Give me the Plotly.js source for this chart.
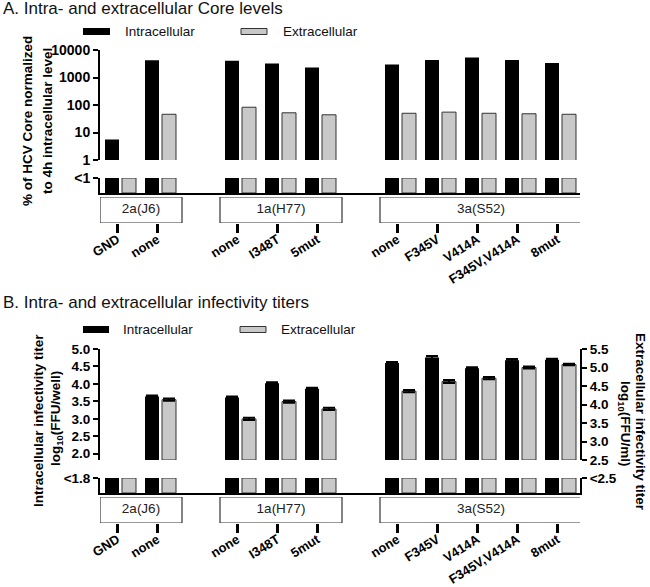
<!DOCTYPE html>
<html>
<head>
<meta charset="utf-8">
<script src="https://cdn.plot.ly/plotly-3.0.1.min.js"></script>
<style>html,body{margin:0;padding:0;background:#fff;}#chart{width:650px;height:587px;}</style>
</head>
<body>
<div id="chart"></div>
<script>
// ---------- data ----------
const groupNames = ['2a(J6)', '1a(H77)', '3a(S52)'];
const categories = ['GND', 'none', 'none', 'I348T', '5mut', 'none', 'F345V', 'V414A', 'F345V,V414A', '8mut'];
const categoryGroup = [0, 0, 1, 1, 1, 2, 2, 2, 2, 2];
const seriesNames = ['Intracellular', 'Extracellular'];

// Panel A: % of HCV Core normalized to 4h intracellular level (null = below 1)
const coreIntra = [5.6, 4200, 4100, 3200, 2300, 3000, 4300, 5300, 4300, 3400];
const coreExtra = [null, 46, 83, 52, 44, 50, 55, 50, 48, 46];

// Panel B: log10 titers (null = below detection)
const titerIntra    = [null, 3.64, 3.61, 4.02, 3.86, 4.60, 4.76, 4.45, 4.68, 4.69];
const titerIntraErr = [null, 0.03, 0.03, 0.03, 0.03, 0.03, 0.04, 0.03, 0.03, 0.03];
const titerExtra    = [null, 4.13, 3.61, 4.08, 3.88, 4.36, 4.62, 4.71, 5.00, 5.08];
const titerExtraErr = [null, 0.03, 0.03, 0.03, 0.03, 0.03, 0.04, 0.03, 0.03, 0.02];

const coreTicks = [1, 10, 100, 1000, 10000];
const intraTicks = [2.0, 2.5, 3.0, 3.5, 4.0, 4.5, 5.0];
const extraTicks = [2.5, 3.0, 3.5, 4.0, 4.5, 5.0, 5.5];
const coreBelow = '<1', intraBelow = '<1.8', extraBelow = '<2.5';

// ---------- layout helpers ----------
const W = 650, H = 587;
const px = v => v / W;
const py = v => 1 - v / H;
const dom = (top, bottom) => [py(bottom), py(top)];
const FONT = 'Liberation Sans, Arial, sans-serif';
const BLACK = '#000000', GREY = '#c8c8c8', EDGE = '#333333';

// x positions: one empty slot between groups
const xpos = [];
categories.forEach((c, i) => {
  if (i === 0) xpos.push(0);
  else xpos.push(xpos[i - 1] + (categoryGroup[i] !== categoryGroup[i - 1] ? 2 : 1));
});
const XR = [-0.5, xpos[xpos.length - 1] + 0.5];
const XD = [px(100), px(580)];
const TS = 0.07; // small leftward offset of the category tick marks (as in the original figure)
const XRT = [XR[0] + TS, XR[1] + TS];
const ones = categories.map(() => 1);

const barI = {offset: -0.375, width: 0.35};
const barE = {offset: 0.05, width: 0.35};

function bars(y, xa, ya, series, base, err, name) {
  const t = {
    type: 'bar', x: xpos, y: y, xaxis: xa, yaxis: ya, showlegend: false, name: name,
    offset: series === 0 ? barI.offset : barE.offset,
    width: series === 0 ? barI.width : barE.width,
    marker: series === 0 ? {color: BLACK, line: {color: BLACK, width: 0}}
                         : {color: GREY, line: {color: EDGE, width: 1}},
    hoverinfo: 'skip'
  };
  if (base !== undefined && base !== null) t.base = base;
  if (err) t.error_y = {type: 'data', array: err, visible: true, color: BLACK, thickness: 2, width: 6};
  return t;
}

// group boxes + labels (in tick-axis units)
const groupRanges = groupNames.map((g, gi) => {
  const xs = xpos.filter((_, i) => categoryGroup[i] === gi);
  return [Math.min(...xs) - 0.5 + TS, Math.max(...xs) + 0.55 + TS];
});
function groupLabelTrace(xa, ya) {
  return {
    type: 'scatter', mode: 'text', xaxis: xa, yaxis: ya, showlegend: false, hoverinfo: 'skip',
    x: groupRanges.map(r => (r[0] + r[1]) / 2), y: groupNames.map(() => 0.5),
    text: groupNames, textposition: 'middle center',
    textfont: {family: FONT, size: 13.5, color: '#222'}
  };
}
function groupShapes(xa, ya) {
  return groupRanges.map(r => ({
    type: 'rect', xref: xa, yref: ya, x0: r[0], x1: r[1], y0: 0, y1: 1,
    line: {color: '#333', width: 1.2}, fillcolor: '#ffffff', layer: 'below'
  }));
}

const LBASE = 1.82, RBASE = 2.5;

const traces = [
  bars(coreIntra, 'x', 'y', 0, null, null, seriesNames[0]),
  bars(coreExtra, 'x', 'y', 1, null, null, seriesNames[1]),
  bars(ones, 'x2', 'y2', 0, null, null, seriesNames[0]),
  bars(ones, 'x2', 'y2', 1, null, null, seriesNames[1]),
  groupLabelTrace('x3', 'y3'),
  bars(titerIntra.map(v => v === null ? null : v - LBASE), 'x4', 'y4', 0, LBASE, titerIntraErr, seriesNames[0]),
  bars(titerExtra.map(v => v === null ? null : v - RBASE), 'x4', 'y5', 1, RBASE, titerExtraErr, seriesNames[1]),
  bars(ones, 'x5', 'y6', 0, null, null, seriesNames[0]),
  bars(ones, 'x5', 'y7', 1, null, null, seriesNames[1]),
  groupLabelTrace('x6', 'y8')
];

const hiddenX = (anchor) => ({domain: XD, range: XR, anchor: anchor, showline: false, showticklabels: false,
  ticks: '', showgrid: false, zeroline: false, fixedrange: true});
const baseX = (anchor) => ({domain: XD, range: XR, anchor: anchor, showline: true, linewidth: 2, linecolor: BLACK,
  showticklabels: false, ticks: '', showgrid: false, zeroline: false, fixedrange: true});
const tickX = (anchor) => ({domain: XD, range: XRT, anchor: anchor, showline: false, showgrid: false, zeroline: false,
  tickmode: 'array', tickvals: xpos, ticktext: categories, ticks: 'outside', ticklen: 9, tickwidth: 3, tickcolor: BLACK,
  tickangle: -32, ticklabelstandoff: -6, tickfont: {family: FONT, size: 13, color: BLACK, weight: 'bold'}, fixedrange: true});
const yTickFont = (s) => ({family: FONT, size: s, color: BLACK, weight: 'bold'});
const yAxisCommon = {showline: true, linewidth: 2, linecolor: BLACK, ticks: 'outside', ticklen: 5, tickwidth: 2,
  tickcolor: BLACK, showgrid: false, zeroline: false, fixedrange: true};

const boldTitle = {family: FONT, size: 13.5, color: BLACK, weight: 'bold'};
function vText(text, x, y, angle) {
  return {text: text, xref: 'paper', yref: 'paper', x: px(x), y: py(y), xanchor: 'center', yanchor: 'middle',
    textangle: angle, showarrow: false, font: boldTitle};
}
function hText(text, x, y, size) {
  return {text: text, xref: 'paper', yref: 'paper', x: px(x), y: py(y), xanchor: 'left', yanchor: 'middle',
    showarrow: false, font: {family: FONT, size: size, color: '#111'}};
}

const layout = {
  width: W, height: H, margin: {l: 0, r: 0, t: 0, b: 0},
  paper_bgcolor: '#ffffff', plot_bgcolor: 'rgba(0,0,0,0)',
  barmode: 'overlay', showlegend: false,
  font: {family: FONT, color: BLACK},
  xaxis: hiddenX('y'),
  xaxis2: baseX('y2'),
  xaxis3: tickX('y3'),
  xaxis4: hiddenX('y4'),
  xaxis5: baseX('y6'),
  xaxis6: tickX('y8'),
  yaxis: Object.assign({}, yAxisCommon, {domain: dom(50, 160), anchor: 'x', type: 'log', range: [0, 4],
    tickmode: 'array', tickvals: coreTicks, ticktext: coreTicks.map(String), tickfont: yTickFont(14)}),
  yaxis2: Object.assign({}, yAxisCommon, {domain: dom(178, 193), anchor: 'x2', range: [0, 1],
    tickmode: 'array', tickvals: [1], ticktext: [coreBelow], tickfont: yTickFont(14)}),
  yaxis3: {domain: dom(197, 223), anchor: 'x3', range: [0, 1], visible: false, fixedrange: true},
  yaxis4: Object.assign({}, yAxisCommon, {domain: dom(349, 460), anchor: 'x4', range: [LBASE, 5.0],
    tickmode: 'array', tickvals: intraTicks, ticktext: intraTicks.map(v => v.toFixed(1)), tickfont: yTickFont(13.5)}),
  yaxis5: Object.assign({}, yAxisCommon, {domain: dom(349, 460), anchor: 'x4', overlaying: 'y4', side: 'right',
    range: [RBASE, 5.5], tickmode: 'array', tickvals: extraTicks, ticktext: extraTicks.map(v => v.toFixed(1)),
    tickfont: yTickFont(13.5)}),
  yaxis6: Object.assign({}, yAxisCommon, {domain: dom(478, 493), anchor: 'x5', range: [0, 1],
    tickmode: 'array', tickvals: [1], ticktext: [intraBelow], tickfont: yTickFont(13.5)}),
  yaxis7: Object.assign({}, yAxisCommon, {domain: dom(478, 493), anchor: 'x5', overlaying: 'y6', side: 'right',
    range: [0, 1], tickmode: 'array', tickvals: [1], ticktext: [extraBelow], tickfont: yTickFont(13.5)}),
  yaxis8: {domain: dom(497, 523), anchor: 'x6', range: [0, 1], visible: false, fixedrange: true},
  shapes: [].concat(
    groupShapes('x3', 'y3'),
    groupShapes('x6', 'y8'),
    [
      {type: 'rect', xref: 'paper', yref: 'paper', x0: px(83), x1: px(110), y0: py(35), y1: py(28),
        fillcolor: BLACK, line: {width: 0}},
      {type: 'rect', xref: 'paper', yref: 'paper', x0: px(241), x1: px(267), y0: py(34.5), y1: py(28.5),
        fillcolor: GREY, line: {color: EDGE, width: 1}},
      {type: 'rect', xref: 'paper', yref: 'paper', x0: px(83), x1: px(109), y0: py(333), y1: py(326),
        fillcolor: BLACK, line: {width: 0}},
      {type: 'rect', xref: 'paper', yref: 'paper', x0: px(240), x1: px(266), y0: py(332.5), y1: py(326.5),
        fillcolor: GREY, line: {color: EDGE, width: 1}}
    ]
  ),
  annotations: [
    hText('A. Intra- and extracellular Core levels', 1, 8, 17),
    hText('B. Intra- and extracellular infectivity titers', 1, 302, 17),
    hText(seriesNames[0], 123, 31.5, 13.5),
    hText(seriesNames[1], 281, 31.5, 13.5),
    hText(seriesNames[0], 121, 329.5, 13.5),
    hText(seriesNames[1], 279, 329.5, 13.5),
    vText('% of HCV Core normalized', 27, 121, -90),
    vText('to 4h intracellular level', 47, 121, -90),
    vText('Intracellular infectivity titer', 38, 421, -90),
    vText('log<sub>10</sub>(FFU/well)', 56, 419, -90),
    vText('Extracellular infectivity titer', 641, 422, 90),
    vText('log<sub>10</sub>(FFU/ml)', 625, 424, 90)
  ]
};

Plotly.newPlot('chart', traces, layout, {displayModeBar: false, staticPlot: true});
</script>
</body>
</html>
